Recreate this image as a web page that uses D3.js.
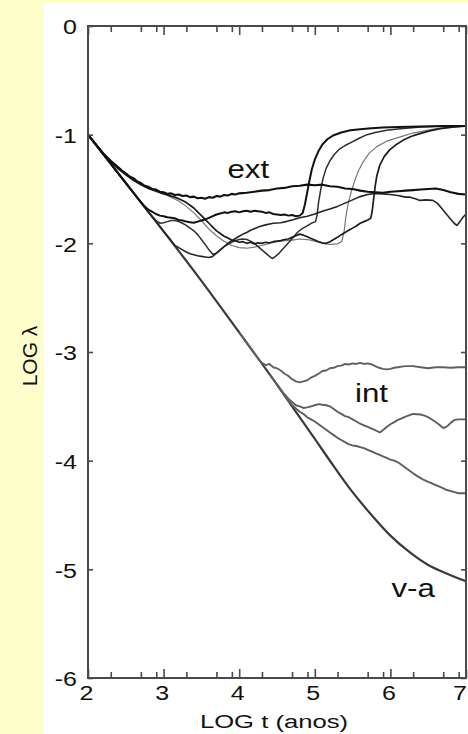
<!DOCTYPE html>
<html>
<head>
<meta charset="utf-8">
<script src="https://cdn.jsdelivr.net/npm/d3@7"></script>
<style>
  html, body { margin: 0; padding: 0; background: #ffffcc; }
  svg { display: block; }
  text { font-family: "Liberation Sans", Arial, sans-serif; fill: #111; }
</style>
</head>
<body>
<script>
// ---- axis ticks -------------------------------------------------------
const xMajorTicks = [2, 3, 4, 5, 6, 7];
const xMinorOffsets = [0.301, 0.699, 0.903];   // log10(2), log10(5), log10(8)
const yTicks = [0, -1, -2, -3, -4, -5, -6];
const xTitle = "LOG t (anos)";
const yTitle = "LOG \u03bb";

// ---- curves: [log t, log lambda] ------------------------------------
// v-a : the common trunk that ends in the smooth bottom curve
const vaCurve = [[2,-1],[2.5,-1.445],[3,-1.89],[3.5,-2.345],[4,-2.82],[4.5,-3.3],[4.75,-3.55],[5,-3.8],
  [5.25,-4.05],[5.5,-4.29],[5.75,-4.5],[6,-4.69],[6.25,-4.84],[6.5,-4.96],[6.75,-5.04],[7,-5.11]];

// ext : outer family
const extTop = [[2,-1],[2.1,-1.085],[2.2,-1.17],[2.3,-1.24],[2.4,-1.3],[2.45,-1.33],[2.5,-1.355],[2.55,-1.385],
  [2.6,-1.4],[2.65,-1.43],[2.7,-1.445],[2.75,-1.47],[2.8,-1.48],[2.85,-1.5],[2.9,-1.505],[2.95,-1.525],[3,-1.53],
  [3.05,-1.545],[3.1,-1.54],[3.15,-1.555],[3.2,-1.55],[3.25,-1.565],[3.3,-1.56],[3.35,-1.575],[3.4,-1.57],
  [3.45,-1.585],[3.5,-1.58],[3.55,-1.59],[3.6,-1.575],[3.65,-1.58],[3.7,-1.565],[3.75,-1.57],[3.8,-1.555],
  [3.85,-1.56],[3.9,-1.545],[3.95,-1.55],[4,-1.54],[4.1,-1.535],[4.2,-1.525],[4.3,-1.515],[4.4,-1.51],
  [4.5,-1.495],[4.6,-1.49],[4.7,-1.475],[4.8,-1.47],[4.9,-1.46],[5,-1.465],[5.1,-1.46],[5.2,-1.475],[5.3,-1.48],
  [5.4,-1.495],[5.5,-1.5],[5.6,-1.515],[5.7,-1.525],[5.8,-1.53],[5.9,-1.535],[6,-1.525],[6.1,-1.52],[6.2,-1.515],
  [6.3,-1.51],[6.4,-1.505],[6.5,-1.5],[6.6,-1.495],[6.7,-1.51],[6.8,-1.53],[6.9,-1.545],[7,-1.55]];

const extMid = [[2,-1],[2.2,-1.178],[2.4,-1.356],[2.6,-1.534],[2.7,-1.62],[2.75,-1.66],[2.8,-1.69],[2.85,-1.71],
  [2.9,-1.73],[2.95,-1.745],[3,-1.75],[3.05,-1.76],[3.1,-1.765],[3.15,-1.77],[3.2,-1.785],[3.25,-1.79],[3.3,-1.8],
  [3.35,-1.805],[3.4,-1.81],[3.45,-1.8],[3.5,-1.79],[3.55,-1.78],[3.6,-1.765],[3.65,-1.75],[3.7,-1.735],
  [3.75,-1.725],[3.8,-1.715],[3.85,-1.72],[3.9,-1.71],[3.95,-1.705],[4,-1.715],[4.05,-1.705],[4.1,-1.7],
  [4.15,-1.71],[4.2,-1.7],[4.25,-1.705],[4.3,-1.71],[4.35,-1.72],[4.4,-1.715],[4.45,-1.73],[4.5,-1.735],
  [4.55,-1.74],[4.6,-1.735],[4.65,-1.745],[4.7,-1.74],[4.75,-1.75],[4.8,-1.745],[4.84,-1.72],[4.87,-1.64],
  [4.9,-1.53],[4.93,-1.42],[4.96,-1.32],[5,-1.23],[5.05,-1.15],[5.1,-1.09],[5.17,-1.04],[5.25,-1.005],
  [5.35,-0.98],[5.47,-0.96],[5.6,-0.95],[5.75,-0.94],[5.9,-0.935],[6.1,-0.93],[6.4,-0.925],[6.7,-0.92],[7,-0.92]];

const extLow = [[2,-1],[2.1,-1.09],[2.2,-1.18],[2.3,-1.25],[2.4,-1.315],[2.5,-1.37],[2.6,-1.42],[2.7,-1.46],
  [2.8,-1.495],[2.9,-1.52],[3,-1.545],[3.05,-1.555],[3.1,-1.565],[3.15,-1.575],[3.2,-1.59],[3.25,-1.605],
  [3.3,-1.625],[3.35,-1.65],[3.4,-1.675],[3.45,-1.71],[3.5,-1.745],[3.55,-1.78],[3.6,-1.815],[3.65,-1.85],
  [3.7,-1.885],[3.75,-1.91],[3.8,-1.935],[3.85,-1.95],[3.9,-1.97],[3.95,-1.975],[4,-1.99],[4.05,-1.985],
  [4.1,-2],[4.15,-1.99],[4.2,-2.005],[4.25,-1.995],[4.3,-2],[4.35,-1.99],[4.4,-1.995],[4.45,-1.985],[4.5,-1.98],
  [4.55,-1.975],[4.6,-1.965],[4.65,-1.96],[4.7,-1.945],[4.75,-1.93],[4.8,-1.915],[4.85,-1.925],[4.9,-1.94],
  [4.95,-1.955],[5,-1.97],[5.05,-1.985],[5.1,-1.995],[5.15,-2],[5.2,-1.985],[5.25,-1.965],[5.3,-1.945],
  [5.35,-1.92],[5.4,-1.9],[5.45,-1.88],[5.5,-1.86],[5.55,-1.84],[5.6,-1.815],[5.65,-1.8],[5.7,-1.785],
  [5.74,-1.77],[5.76,-1.7],[5.78,-1.58],[5.8,-1.47],[5.82,-1.38],[5.86,-1.28],[5.92,-1.2],[5.99,-1.14],
  [6.08,-1.09],[6.17,-1.05],[6.28,-1.015],[6.39,-0.99],[6.52,-0.965],[6.66,-0.945],[6.82,-0.93],[7,-0.92]];

const extVee = [[2,-1],[2.5,-1.445],[2.8,-1.715],[2.9,-1.79],[2.95,-1.815],[3,-1.81],[3.05,-1.8],[3.1,-1.79],
  [3.15,-1.79],[3.2,-1.8],[3.25,-1.815],[3.3,-1.835],[3.35,-1.86],[3.4,-1.885],[3.45,-1.92],[3.5,-1.965],
  [3.55,-2.01],[3.6,-2.06],[3.65,-2.1],[3.7,-2.09],[3.75,-2.06],[3.8,-2.03],[3.85,-2.01],[3.9,-1.99],
  [3.95,-1.975],[4,-1.965],[4.05,-1.96],[4.1,-1.965],[4.15,-1.98],[4.2,-2],[4.25,-2.03],[4.3,-2.06],[4.35,-2.09],
  [4.4,-2.12],[4.44,-2.14],[4.48,-2.12],[4.53,-2.09],[4.58,-2.05],[4.62,-2.02],[4.67,-1.98],[4.72,-1.94],
  [4.77,-1.9],[4.82,-1.87],[4.87,-1.85],[4.92,-1.83],[4.97,-1.81],[5.01,-1.8],[5.03,-1.74],[5.05,-1.62],
  [5.08,-1.5],[5.11,-1.4],[5.15,-1.31],[5.2,-1.24],[5.26,-1.18],[5.33,-1.13],[5.4,-1.1],[5.47,-1.075],
  [5.58,-1.035],[5.69,-1],[5.8,-0.98],[5.95,-0.96],[6.13,-0.945],[6.4,-0.93],[6.66,-0.922],[7,-0.92]];

const extRise = [[2,-1],[2.5,-1.445],[3,-1.89],[3.1,-1.975],[3.15,-2.02],[3.2,-2.04],[3.25,-2.06],[3.3,-2.08],
  [3.35,-2.095],[3.4,-2.105],[3.45,-2.115],[3.5,-2.12],[3.55,-2.125],[3.6,-2.13],[3.65,-2.12],[3.7,-2.09],
  [3.75,-2.06],[3.8,-2.03],[3.85,-2],[3.9,-1.975],[3.95,-1.955],[4,-1.935],[4.05,-1.915],[4.1,-1.9],[4.15,-1.88],
  [4.2,-1.865],[4.27,-1.845],[4.35,-1.83],[4.45,-1.815],[4.55,-1.81],[4.62,-1.8],[4.7,-1.785],[4.8,-1.765],
  [4.9,-1.75],[5,-1.73],[5.1,-1.705],[5.2,-1.685],[5.3,-1.66],[5.4,-1.63],[5.5,-1.6],[5.6,-1.57],[5.7,-1.55],
  [5.8,-1.54],[5.9,-1.545],[6,-1.55],[6.1,-1.56],[6.2,-1.575],[6.26,-1.575],[6.33,-1.59],[6.39,-1.605],
  [6.47,-1.6],[6.56,-1.605],[6.62,-1.63],[6.68,-1.68],[6.74,-1.73],[6.8,-1.78],[6.85,-1.82],[6.88,-1.835],
  [6.92,-1.8],[6.96,-1.76],[7,-1.73]];

const extThin = [[2,-1],[2.2,-1.17],[2.4,-1.305],[2.6,-1.41],[2.8,-1.49],[3,-1.54],[3.1,-1.575],[3.2,-1.61],
  [3.3,-1.66],[3.4,-1.72],[3.5,-1.79],[3.6,-1.87],[3.7,-1.93],[3.8,-1.98],[3.9,-2.02],[4,-2.04],[4.1,-2.045],
  [4.2,-2.035],[4.3,-2.02],[4.4,-2],[4.5,-1.985],[4.6,-1.975],[4.7,-1.97],[4.8,-1.96],[4.9,-1.965],[5,-1.98],
  [5.1,-2],[5.2,-2.01],[5.3,-2.005],[5.36,-1.98],[5.39,-1.88],[5.41,-1.76],[5.44,-1.64],[5.48,-1.53],
  [5.53,-1.42],[5.58,-1.33],[5.64,-1.25],[5.72,-1.17],[5.82,-1.11],[5.95,-1.06],[6.13,-1.02],[6.3,-0.985],
  [6.48,-0.96],[6.65,-0.94],[6.82,-0.93],[7,-0.925]];

// int : inner family
const intTop = [[4,-2.82],[4.25,-3.06],[4.3,-3.1],[4.35,-3.12],[4.4,-3.11],[4.45,-3.14],[4.5,-3.15],[4.55,-3.17],
  [4.6,-3.2],[4.65,-3.22],[4.7,-3.25],[4.75,-3.27],[4.8,-3.28],[4.85,-3.27],[4.9,-3.26],[4.95,-3.235],[5,-3.22],
  [5.05,-3.2],[5.1,-3.175],[5.15,-3.17],[5.2,-3.15],[5.25,-3.145],[5.3,-3.13],[5.35,-3.125],[5.4,-3.11],
  [5.45,-3.115],[5.5,-3.105],[5.55,-3.11],[5.6,-3.1],[5.65,-3.11],[5.7,-3.105],[5.75,-3.115],[5.8,-3.13],
  [5.85,-3.145],[5.9,-3.155],[5.95,-3.16],[6,-3.155],[6.05,-3.145],[6.1,-3.14],[6.15,-3.135],[6.2,-3.13],
  [6.3,-3.13],[6.4,-3.14],[6.5,-3.15],[6.55,-3.145],[6.6,-3.14],[6.7,-3.14],[6.8,-3.145],[6.9,-3.14],[7,-3.14]];

const intMid = [[4.4,-3.204],[4.5,-3.3],[4.55,-3.35],[4.6,-3.39],[4.65,-3.43],[4.7,-3.46],[4.75,-3.49],[4.8,-3.5],
  [4.85,-3.515],[4.9,-3.51],[4.95,-3.5],[5,-3.49],[5.05,-3.48],[5.1,-3.485],[5.15,-3.49],[5.2,-3.5],[5.25,-3.525],
  [5.3,-3.55],[5.35,-3.57],[5.4,-3.59],[5.45,-3.6],[5.5,-3.62],[5.55,-3.64],[5.6,-3.66],[5.65,-3.675],[5.7,-3.69],
  [5.75,-3.705],[5.8,-3.72],[5.86,-3.74],[5.9,-3.72],[5.95,-3.69],[6,-3.665],[6.05,-3.645],[6.1,-3.625],
  [6.15,-3.61],[6.2,-3.595],[6.3,-3.57],[6.4,-3.575],[6.45,-3.585],[6.5,-3.6],[6.57,-3.63],[6.63,-3.66],
  [6.7,-3.7],[6.75,-3.685],[6.8,-3.65],[6.85,-3.625],[6.9,-3.62],[7,-3.62]];

const intLow = [[4.5,-3.3],[4.6,-3.4],[4.65,-3.45],[4.7,-3.49],[4.75,-3.52],[4.8,-3.55],[4.85,-3.57],[4.9,-3.6],
  [4.95,-3.62],[5,-3.64],[5.05,-3.665],[5.1,-3.69],[5.15,-3.715],[5.2,-3.74],[5.25,-3.765],[5.3,-3.79],
  [5.35,-3.81],[5.4,-3.83],[5.45,-3.85],[5.5,-3.86],[5.55,-3.865],[5.6,-3.875],[5.65,-3.885],[5.7,-3.9],
  [5.75,-3.915],[5.8,-3.93],[5.85,-3.945],[5.9,-3.96],[5.95,-3.975],[6,-3.99],[6.05,-4],[6.1,-4.015],
  [6.15,-4.04],[6.2,-4.065],[6.25,-4.09],[6.3,-4.115],[6.35,-4.14],[6.4,-4.16],[6.45,-4.18],[6.5,-4.195],
  [6.55,-4.21],[6.6,-4.225],[6.65,-4.24],[6.7,-4.255],[6.75,-4.27],[6.8,-4.28],[6.85,-4.29],[6.9,-4.3],
  [6.95,-4.3],[7,-4.3]];

// family labels: [text, log t, log lambda]
const curveLabels = [["ext", 4.12, -1.4], ["int", 5.75, -3.46], ["v-a", 6.3, -5.25]];

// ---- drawing --------------------------------------------------------
const W = 468, H = 734;
const svg = d3.select("body").append("svg").attr("width", W).attr("height", H);

svg.append("rect").attr("width", W).attr("height", H).attr("fill", "#ffffcc");
svg.append("rect").attr("x", 44).attr("y", 3).attr("width", W - 44).attr("height", H - 3).attr("fill", "#ffffff");

const x = d3.scaleLinear().domain([2, 7]).range([88, 466]);
const y = d3.scaleLinear().domain([-6, 0]).range([678, 26]);

const line = d3.line().x(d => x(d[0])).y(d => y(d[1])).curve(d3.curveLinear);
const smooth = d3.line().x(d => x(d[0])).y(d => y(d[1])).curve(d3.curveCatmullRom.alpha(0.5));

const plot = svg.append("g");

const series = [
  { data: vaCurve,  gen: smooth, color: "#3a3a3a", width: 2.2 },
  { data: intLow,   gen: line,   color: "#5e5e5e", width: 1.9 },
  { data: intMid,   gen: line,   color: "#5e5e5e", width: 1.9 },
  { data: intTop,   gen: line,   color: "#606060", width: 1.9 },
  { data: extThin,  gen: line,   color: "#777777", width: 1.2 },
  { data: extVee,   gen: line,   color: "#2e2e2e", width: 1.5 },
  { data: extRise,  gen: line,   color: "#262626", width: 1.6 },
  { data: extLow,   gen: line,   color: "#1c1c1c", width: 1.7 },
  { data: extMid,   gen: line,   color: "#121212", width: 2.0 },
  { data: extTop,   gen: line,   color: "#111111", width: 2.1 }
];

plot.selectAll("path.curve").data(series).join("path")
  .attr("class", "curve")
  .attr("d", s => s.gen(s.data))
  .attr("fill", "none")
  .attr("stroke", s => s.color)
  .attr("stroke-width", s => s.width)
  .attr("stroke-linejoin", "round");

// frame
const frameColor = "#4a4a4a";
svg.append("rect")
  .attr("x", x(2)).attr("y", y(0))
  .attr("width", x(7) - x(2)).attr("height", y(-6) - y(0))
  .attr("fill", "none").attr("stroke", frameColor).attr("stroke-width", 2);

// inward ticks on all four sides
const minorTicks = [];
xMajorTicks.slice(0, -1).forEach(v => xMinorOffsets.forEach(o => minorTicks.push(v + o)));

function styleAxis(g) {
  g.select(".domain").remove();
  g.selectAll(".tick line").attr("stroke", frameColor).attr("stroke-width", 1.6);
}
svg.append("g").attr("transform", `translate(0,${y(-6)})`)
  .call(d3.axisBottom(x).tickValues(xMajorTicks).tickSize(-9).tickFormat("")).call(styleAxis);
svg.append("g").attr("transform", `translate(0,${y(-6)})`)
  .call(d3.axisBottom(x).tickValues(minorTicks).tickSize(-6).tickFormat("")).call(styleAxis);
svg.append("g").attr("transform", `translate(0,${y(0)})`)
  .call(d3.axisTop(x).tickValues(xMajorTicks).tickSize(-9).tickFormat("")).call(styleAxis);
svg.append("g").attr("transform", `translate(0,${y(0)})`)
  .call(d3.axisTop(x).tickValues(minorTicks).tickSize(-6).tickFormat("")).call(styleAxis);
svg.append("g").attr("transform", `translate(${x(2)},0)`)
  .call(d3.axisLeft(y).tickValues(yTicks).tickSize(-5).tickFormat("")).call(styleAxis);
svg.append("g").attr("transform", `translate(${x(7)},0)`)
  .call(d3.axisRight(y).tickValues(yTicks).tickSize(-5).tickFormat("")).call(styleAxis);

// tick labels (glyphs are drawn slightly wide)
const fmt = v => String(v);
svg.append("g").selectAll("g").data(yTicks).join("g")
  .attr("transform", v => `translate(77,${y(v) + 1}) scale(1.25,1)`)
  .append("text").attr("text-anchor", "end").attr("dy", "0.36em")
  .attr("font-size", 20).text(fmt);

svg.append("g").selectAll("g").data(xMajorTicks).join("g")
  .attr("transform", v => `translate(${Math.min(x(v) - 1.5, 460)},700) scale(1.25,1)`)
  .append("text").attr("text-anchor", "middle")
  .attr("font-size", 20).text(fmt);

// axis titles
svg.append("g").attr("transform", "translate(274,728) scale(1.35,1)")
  .append("text").attr("text-anchor", "middle").attr("font-size", 19).text(xTitle);
svg.append("g").attr("transform", "translate(37,356) rotate(-90)")
  .append("text").attr("text-anchor", "middle").attr("font-size", 21).text(yTitle);

// family labels
svg.append("g").selectAll("g").data(curveLabels).join("g")
  .attr("transform", d => `translate(${x(d[1])},${y(d[2])}) scale(1.25,1)`)
  .append("text").attr("text-anchor", "middle").attr("font-size", 25).text(d => d[0]);
</script>
</body>
</html>
